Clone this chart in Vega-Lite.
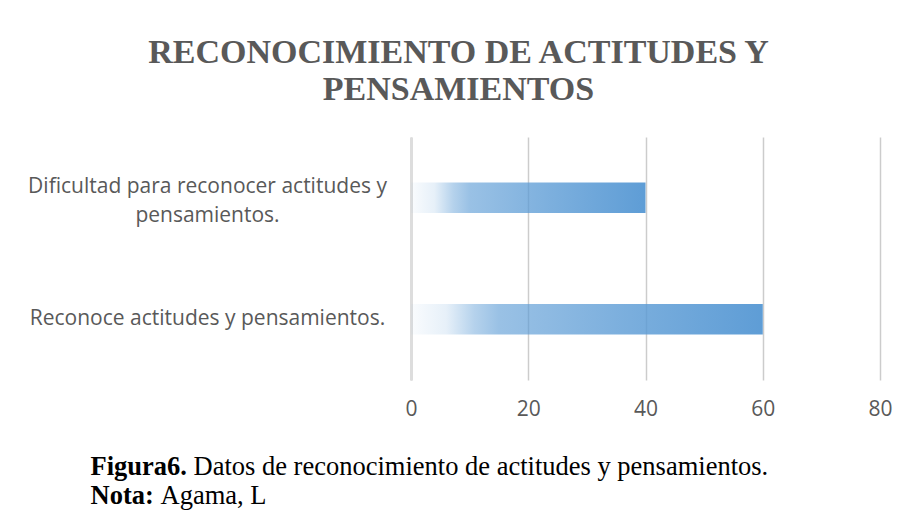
{
  "$schema": "https://vega.github.io/schema/vega-lite/v6.json",
  "width": 469,
  "height": 243,
  "autosize": {"type": "none"},
  "padding": {"left": 411, "top": 137, "right": 22, "bottom": 151},
  "background": "white",
  "title": {
    "text": ["RECONOCIMIENTO DE ACTITUDES Y", "PENSAMIENTOS"],
    "font": "Liberation Serif",
    "fontSize": 34,
    "fontWeight": "bold",
    "color": "#595959",
    "anchor": "middle",
    "frame": "group",
    "dx": -187,
    "lineHeight": 37,
    "offset": 30
  },
  "data": {
    "values": [
      {"categoria": "Dificultad para reconocer actitudes y pensamientos.", "valor": 40},
      {"categoria": "Reconoce actitudes y pensamientos.", "valor": 60}
    ]
  },
  "layer": [
    {
      "mark": {
        "type": "bar",
        "color": {
          "gradient": "linear",
          "x1": 0, "x2": 1, "y1": 0, "y2": 0,
          "stops": [
            {"offset": 0, "color": "rgba(91,155,213,0.03)"},
            {"offset": 0.1, "color": "rgba(91,155,213,0.15)"},
            {"offset": 0.18, "color": "rgba(91,155,213,0.45)"},
            {"offset": 0.25, "color": "rgba(91,155,213,0.62)"},
            {"offset": 0.6, "color": "rgba(91,155,213,0.8)"},
            {"offset": 1, "color": "rgba(91,155,213,0.98)"}
          ]
        }
      },
      "encoding": {
        "y": {
          "field": "categoria",
          "type": "nominal",
          "sort": ["Dificultad para reconocer actitudes y pensamientos.", "Reconoce actitudes y pensamientos."],
          "scale": {"paddingInner": 0.75, "paddingOuter": 0.375},
          "axis": {
            "orient": "left",
            "domain": true,
            "domainColor": "#DDDDDD",
            "domainWidth": 3,
            "ticks": false,
            "tickSize": 0,
            "grid": false,
            "labelFont": "Open Sans",
            "labelFontSize": 21,
            "labelColor": "#595959",
            "labelAlign": "center",
            "labelBaseline": "middle",
            "labelPadding": 204,
            "labelLimit": 0,
            "labelLineHeight": 29,
            "labelOffset": {"condition": {"test": "datum.value == 'Dificultad para reconocer actitudes y pensamientos.'", "value": -11}, "value": 0},
            "labelExpr": "datum.label == 'Dificultad para reconocer actitudes y pensamientos.' ? ['Dificultad para reconocer actitudes y', 'pensamientos.'] : datum.label",
            "title": "Datos de reconocimiento de actitudes y pensamientos.",
            "titleFont": "Liberation Serif",
            "titleFontSize": 26.5,
            "titleFontWeight": "normal",
            "titleColor": "#000000",
            "titleAngle": 0,
            "titleAlign": "left",
            "titleBaseline": "alphabetic",
            "titleX": -218,
            "titleY": 337
          }
        },
        "x": {
          "field": "valor",
          "type": "quantitative",
          "scale": {"domain": [0, 80], "nice": false},
          "axis": {
            "orient": "bottom",
            "values": [0, 20, 40, 60, 80],
            "grid": true,
            "gridColor": "#CCCCCC",
            "gridWidth": 1.5,
            "domain": false,
            "ticks": false,
            "tickSize": 0,
            "labelFlush": false,
            "labelFont": "Open Sans",
            "labelFontSize": 21,
            "labelColor": "#595959",
            "labelPadding": 18,
            "title": ["Figura6.", "Nota:"],
            "titleFont": "Liberation Serif",
            "titleFontSize": 26.5,
            "titleFontWeight": "bold",
            "titleColor": "#000000",
            "titleAlign": "left",
            "titleBaseline": "alphabetic",
            "titleLineHeight": 29,
            "titleX": -321,
            "titleY": 94
          }
        }
      }
    },
    {
      "mark": {"type": "tick", "opacity": 0},
      "encoding": {
        "x": {
          "field": "valor",
          "type": "quantitative",
          "axis": {
            "orient": "top",
            "grid": false,
            "labels": false,
            "ticks": false,
            "domain": false,
            "title": "Agama, L",
            "titleFont": "Liberation Serif",
            "titleFontSize": 26.5,
            "titleFontWeight": "normal",
            "titleColor": "#000000",
            "titleAlign": "left",
            "titleBaseline": "alphabetic",
            "titleX": -251,
            "titleY": 366
          }
        }
      }
    }
  ],
  "resolve": {"axis": {"x": "independent"}},
  "config": {"view": {"stroke": null}}
}
